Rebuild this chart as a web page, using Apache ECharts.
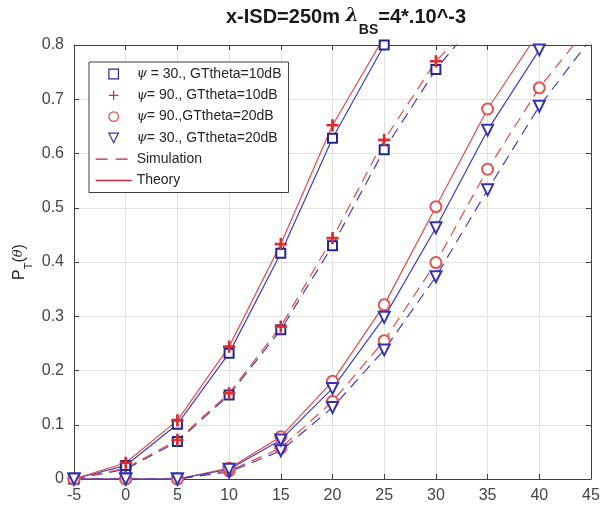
<!DOCTYPE html>
<html>
<head>
<meta charset="utf-8">
<script src="https://cdn.jsdelivr.net/npm/echarts@6/dist/echarts.min.js"></script>
<style>
  html, body { margin: 0; padding: 0; background: #fff; }
  #chart { width: 610px; height: 514px; }
</style>
</head>
<body>
<div id="chart"></div>
<script>
// SNR threshold axis (x) and probability axis (y)
const xValues = [-5, 0, 5, 10, 15, 20, 25, 30, 35, 40, 45];
const xTickLabels = ['-5', '0', '5', '10', '15', '20', '25', '30', '35', '40', '45'];
const yTickLabels = ['0', '0.1', '0.2', '0.3', '0.4', '0.5', '0.6', '0.7', '0.8'];

// GTtheta = 10 dB (curves leave the plot above 0.8)
const theoryPsi90G10 = [0, 0.030, 0.108, 0.244, 0.433, 0.652, 0.815];
const theoryPsi30G10 = [0, 0.025, 0.101, 0.232, 0.416, 0.628, 0.800];
const simPsi90G10 = [0, 0.020, 0.072, 0.158, 0.281, 0.444, 0.625, 0.770, 0.870];
const simPsi30G10 = [0, 0.018, 0.069, 0.155, 0.275, 0.430, 0.607, 0.755, 0.870];

// GTtheta = 20 dB
const theoryPsi90G20 = [0, 0, 0, 0.020, 0.078, 0.180, 0.321, 0.502, 0.682, 0.825];
const theoryPsi30G20 = [0, 0, 0, 0.018, 0.072, 0.167, 0.298, 0.463, 0.643, 0.791, 0.930];
const simPsi90G20 = [0, 0, 0, 0.015, 0.057, 0.143, 0.255, 0.399, 0.571, 0.721, 0.840];
const simPsi30G20 = [0, 0, 0, 0.013, 0.052, 0.132, 0.238, 0.373, 0.533, 0.687, 0.812];

const legendNames = [
  'ψ = 30., GTtheta=10dB',
  'ψ= 90., GTtheta=10dB',
  'ψ= 90.,GTtheta=20dB',
  'ψ= 30., GTtheta=20dB',
  'Simulation',
  'Theory'
];

const FONT = '"Liberation Sans", Arial, Helvetica, sans-serif';
const RED = '#e64a4a';
const BLUE = '#3e3ec6';
const SQUARE_C = '#23288e';
const PLUS_C = '#e02a2a';
const CIRCLE_C = '#e25454';
const TRI_C = '#3434b4';
const LEGEND_LINE = '#b92a3e';
const DASH = [11, 7];
const PLUS = 'path://M4.35,0H5.65V4.35H10V5.65H5.65V10H4.35V5.65H0V4.35H4.35Z';
const TRI_DOWN = 'path://M0,0H10L5,9Z';

function pairs(ys) {
  return ys.map((y, i) => [xValues[i], y]);
}

const markers = {
  square: { symbol: 'emptyRect', legendSymbol: 'rect', symbolSize: 9, color: SQUARE_C, rotate: 0 },
  plus: { symbol: PLUS, legendSymbol: PLUS, symbolSize: 11, color: PLUS_C, rotate: 0 },
  circle: { symbol: 'emptyCircle', legendSymbol: 'circle', symbolSize: 11, color: CIRCLE_C, rotate: 0 },
  tri: { symbol: 'emptyTriangle', legendSymbol: TRI_DOWN, symbolSize: 11, color: TRI_C, rotate: 180 }
};

function curve(name, ys, lineColor, marker, dashed) {
  const m = markers[marker];
  return {
    name: name,
    type: 'line',
    data: pairs(ys),
    clip: true,
    z: 3,
    symbol: m.symbol,
    symbolSize: m.symbolSize,
    symbolRotate: m.rotate,
    showAllSymbol: true,
    itemStyle: { color: m.color, borderColor: m.color, borderWidth: 1.2 },
    lineStyle: { color: lineColor, width: 1.2, type: dashed ? DASH : 'solid' },
    emphasis: { disabled: true },
    silent: true,
    animation: false
  };
}

// Legend-only series (no data), one per legend row
function legendSeries(name, symbol) {
  return {
    name: name,
    type: 'line',
    data: [],
    symbol: symbol,
    symbolSize: 10,
    lineStyle: { width: 1.3, color: LEGEND_LINE }
  };
}

function markerLegendItem(name, marker) {
  const m = markers[marker];
  const isPlus = marker === 'plus';
  return {
    name: name,
    itemStyle: {
      color: isPlus ? m.color : '#ffffff',
      borderColor: m.color,
      borderWidth: isPlus ? 0 : 1.2,
      opacity: 1
    },
    lineStyle: { opacity: 0, width: 0 }
  };
}

function lineLegendItem(name, dashed) {
  return {
    name: name,
    itemStyle: { opacity: 0 },
    lineStyle: { color: LEGEND_LINE, width: 1.3, type: dashed ? [12, 8] : 'solid', opacity: 1 }
  };
}

const axisLineStyle = { color: '#3f3f3f', width: 1 };
const tickStyle = { show: true, inside: true, length: 5, lineStyle: { color: '#3f3f3f' } };

const chart = echarts.init(document.getElementById('chart'), null, { renderer: 'canvas' });

chart.setOption({
  animation: false,
  backgroundColor: '#ffffff',
  textStyle: { fontFamily: FONT },
  title: {
    text: '{b|x-ISD=250m }{l|λ}{s|BS}{b|=4*.10^-3}',
    left: 226,
    top: 7,
    padding: 0,
    textStyle: {
      rich: {
        b: { fontFamily: FONT, fontSize: 20, fontWeight: 'bold', color: '#1a1a1a', lineHeight: 20, verticalAlign: 'top' },
        l: { fontFamily: '"DejaVu Serif", serif', fontSize: 19, fontStyle: 'italic', color: '#1a1a1a', lineHeight: 20, verticalAlign: 'top' },
        s: { fontFamily: FONT, fontSize: 14, fontWeight: 'bold', color: '#1a1a1a', lineHeight: 30, verticalAlign: 'bottom' }
      }
    }
  },
  grid: {
    left: 74, right: 19, top: 45, bottom: 35,
    containLabel: false,
    outerBoundsMode: 'none'
  },
  legend: {
    data: [
      markerLegendItem(legendNames[0], 'square'),
      markerLegendItem(legendNames[1], 'plus'),
      markerLegendItem(legendNames[2], 'circle'),
      markerLegendItem(legendNames[3], 'tri'),
      lineLegendItem(legendNames[4], true),
      lineLegendItem(legendNames[5], false)
    ],
    orient: 'vertical',
    left: 89,
    top: 62,
    padding: [4, 7, 4, 6],
    itemWidth: 36,
    itemHeight: 12,
    itemGap: 5.3,
    backgroundColor: '#ffffff',
    borderColor: '#3f3f3f',
    borderWidth: 1,
    borderRadius: 0,
    selectedMode: false,
    symbolRotate: 0,
    formatter: name => name.replace('ψ', '{i|ψ}'),
    textStyle: {
      fontFamily: FONT,
      fontSize: 14,
      lineHeight: 16,
      color: '#262626',
      rich: {
        i: { fontFamily: '"DejaVu Serif", serif', fontStyle: 'italic', fontSize: 13, color: '#262626', lineHeight: 16 }
      }
    }
  },
  xAxis: [
    {
      type: 'value',
      min: -5, max: 45, interval: 5,
      position: 'bottom',
      axisLine: { show: true, onZero: false, lineStyle: axisLineStyle },
      axisTick: tickStyle,
      axisLabel: {
        show: true, margin: 9, fontFamily: FONT, fontSize: 16, color: '#454545',
        formatter: v => xTickLabels[xValues.indexOf(Math.round(v))] ?? ''
      },
      splitLine: { show: true, lineStyle: { color: '#e2e2e2', width: 1 } }
    },
    {
      type: 'value',
      min: -5, max: 45, interval: 5,
      position: 'top',
      axisLine: { show: true, onZero: false, lineStyle: axisLineStyle },
      axisTick: tickStyle,
      axisLabel: { show: false },
      splitLine: { show: false }
    }
  ],
  yAxis: [
    {
      type: 'value',
      min: 0, max: 0.8, interval: 0.1,
      position: 'left',
      axisLine: { show: true, onZero: false, lineStyle: axisLineStyle },
      axisTick: tickStyle,
      axisLabel: {
        show: true, margin: 10, fontFamily: FONT, fontSize: 16, color: '#454545',
        formatter: v => yTickLabels[Math.round(v * 10)] ?? ''
      },
      splitLine: { show: true, lineStyle: { color: '#e2e2e2', width: 1 } },
      name: '{p|P}{s|T}{p|(}{t|θ}{p|)}',
      nameLocation: 'middle',
      nameGap: 40,
      nameRotate: 90,
      nameMoveOverlap: false,
      nameTextStyle: {
        rich: {
          p: { fontFamily: FONT, fontSize: 16, color: '#262626', lineHeight: 16, verticalAlign: 'top' },
          t: { fontFamily: '"DejaVu Serif", serif', fontStyle: 'italic', fontSize: 13, color: '#262626', lineHeight: 16, verticalAlign: 'top' },
          s: { fontFamily: FONT, fontSize: 11, color: '#262626', lineHeight: 22, verticalAlign: 'bottom' }
        }
      }
    },
    {
      type: 'value',
      min: 0, max: 0.8, interval: 0.1,
      position: 'right',
      axisLine: { show: true, onZero: false, lineStyle: axisLineStyle },
      axisTick: tickStyle,
      axisLabel: { show: false },
      splitLine: { show: false }
    }
  ],
  series: [
    // simulation (dashed)
    curve('sim psi30 10dB', simPsi30G10, BLUE, 'square', true),
    curve('sim psi90 10dB', simPsi90G10, RED, 'plus', true),
    curve('sim psi90 20dB', simPsi90G20, RED, 'circle', true),
    curve('sim psi30 20dB', simPsi30G20, BLUE, 'tri', true),
    // theory (solid)
    curve('theory psi30 10dB', theoryPsi30G10, BLUE, 'square', false),
    curve('theory psi90 10dB', theoryPsi90G10, RED, 'plus', false),
    curve('theory psi90 20dB', theoryPsi90G20, RED, 'circle', false),
    curve('theory psi30 20dB', theoryPsi30G20, BLUE, 'tri', false),
    // legend rows
    legendSeries(legendNames[0], markers.square.legendSymbol),
    legendSeries(legendNames[1], markers.plus.legendSymbol),
    legendSeries(legendNames[2], markers.circle.legendSymbol),
    legendSeries(legendNames[3], markers.tri.legendSymbol),
    legendSeries(legendNames[4], 'circle'),
    legendSeries(legendNames[5], 'circle')
  ]
});
</script>
</body>
</html>
